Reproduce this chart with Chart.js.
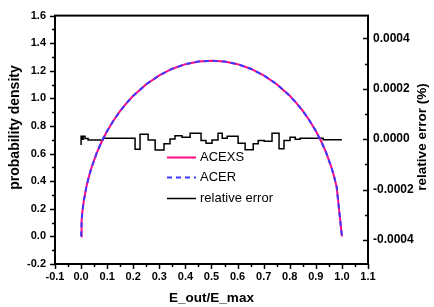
<!DOCTYPE html>
<html>
<head>
<meta charset="utf-8">
<script src="https://cdn.jsdelivr.net/npm/chart.js@4/dist/chart.umd.min.js"></script>
<style>
html,body{margin:0;padding:0;background:#fff;}
#wrap{width:434px;height:307px;position:relative;}
</style>
</head>
<body>
<div id="wrap"><canvas id="c" width="434" height="307"></canvas></div>
<script>
// ---- data ----
const curveX = [0, 0.002, 0.005, 0.01, 0.02, 0.03, 0.04, 0.06, 0.08, 0.1, 0.125, 0.15, 0.175, 0.2, 0.25, 0.3, 0.35, 0.4, 0.45, 0.5,
  0.55, 0.6, 0.65, 0.7, 0.75, 0.8, 0.825, 0.85, 0.875, 0.9, 0.92, 0.94, 0.96, 0.97, 0.98, 1.0];
const acexsY = [0, 0.114, 0.180, 0.253, 0.357, 0.434, 0.499, 0.605, 0.691, 0.764, 0.842, 0.909, 0.968, 1.019, 1.103, 1.167, 1.215, 1.248, 1.267, 1.273,
  1.267, 1.248, 1.215, 1.167, 1.103, 1.019, 0.968, 0.909, 0.842, 0.764, 0.691, 0.605, 0.499, 0.434, 0.357, 0];
const acerY = [0, 0.114, 0.180, 0.253, 0.357, 0.434, 0.499, 0.605, 0.691, 0.764, 0.842, 0.909, 0.968, 1.019, 1.103, 1.167, 1.215, 1.248, 1.267, 1.273,
  1.267, 1.248, 1.215, 1.167, 1.103, 1.019, 0.968, 0.909, 0.842, 0.764, 0.691, 0.605, 0.499, 0.434, 0.357, 0];
const errX = [0, 0.004, 0.008, 0.015, 0.027, 0.084, 0.207, 0.226, 0.257, 0.284, 0.318, 0.341, 0.360, 0.387, 0.418, 0.460, 0.479, 0.502, 0.525, 0.541,
  0.560, 0.602, 0.629, 0.660, 0.679, 0.702, 0.732, 0.759, 0.778, 0.801, 0.821, 0.840, 0.928, 0.982, 1.0];
const errY = [-2.3e-5, 1.2e-5, 0.0, 1.2e-5, 0.3e-5, -0.3e-5, 0.4e-5, -4.0e-5, 2.0e-5, -0.3e-5, -4.3e-5, -1.8e-5, 0.1e-5, 1.4e-5, 0.8e-5, 2.3e-5, -0.5e-5, -1.6e-5, -0.3e-5, 2.3e-5,
  0.4e-5, 1.2e-5, -1.6e-5, -4.2e-5, -1.8e-5, -0.5e-5, -0.8e-5, 2.3e-5, -3.8e-5, -0.5e-5, 0.8e-5, 0.0, 0.4e-5, -0.2e-5, -0.2e-5];
const xTicks = [-0.1, 0, 0.1, 0.2, 0.3, 0.4, 0.5, 0.6, 0.7, 0.8, 0.9, 1.0, 1.1];
const yTicks = [-0.2, 0, 0.2, 0.4, 0.6, 0.8, 1.0, 1.2, 1.4, 1.6];
const y1Ticks = [-0.0004, -0.0002, 0, 0.0002, 0.0004];
const seriesNames = ['ACEXS', 'ACER', 'relative error'];
const axisTitles = {x: 'E_out/E_max', y: 'probability density', y1: 'relative error (%)'};

const FONT = '"Liberation Sans", Arial, sans-serif';
const PINK = '#ff0a80', BLUE = '#3a3aff';

function pts(xs, ys){ return xs.map((x,i)=>({x:x, y:ys[i]})); }
function fixTicks(arr){ return function(scale){ scale.ticks = arr.map(v=>({value:v})); }; }

const framePlugin = {
  id: 'frame',
  afterDraw(chart){
    const ctx = chart.ctx, a = chart.chartArea;
    const sx = chart.scales.x, sy = chart.scales.y, sy1 = chart.scales.y1;
    ctx.save();
    ctx.strokeStyle = '#000';
    // ticks
    ctx.lineWidth = 1.5;
    ctx.beginPath();
    for (let v = -0.1; v <= 1.1001; v += 0.05) {
      const px = Math.round(sx.getPixelForValue(v)) + 0.5;
      const major = Math.abs(Math.round(v*10) - v*10) < 1e-6;
      ctx.moveTo(px, a.bottom); ctx.lineTo(px, a.bottom + (major ? 5 : 3));
    }
    for (let v = -0.2; v <= 1.6001; v += 0.1) {
      const py = Math.round(sy.getPixelForValue(v)) + 0.5;
      const major = Math.abs(Math.round(v*5) - v*5) < 1e-6;
      ctx.moveTo(a.left, py); ctx.lineTo(a.left - (major ? 5 : 3), py);
    }
    for (let k = -4; k <= 4; k++) {
      const v = k * 0.0001;
      const py = Math.round(sy1.getPixelForValue(v)) + 0.5;
      const major = (k % 2 === 0);
      ctx.moveTo(a.right, py); ctx.lineTo(a.right - (major ? 5 : 3), py);
    }
    ctx.stroke();
    // frame
    ctx.lineWidth = 2;
    ctx.strokeRect(a.left, a.top, a.right - a.left, a.bottom - a.top);
    // axis titles
    ctx.fillStyle = '#000';
    ctx.textAlign = 'center';
    ctx.textBaseline = 'middle';
    ctx.font = 'bold 14px ' + FONT;
    ctx.save();
    ctx.translate(15, 127.5);
    ctx.rotate(-Math.PI/2);
    ctx.fillText(axisTitles.y, 0, 0);
    ctx.restore();
    ctx.font = 'bold 13.5px ' + FONT;
    ctx.save();
    ctx.translate(422, 137);
    ctx.rotate(-Math.PI/2);
    ctx.fillText(axisTitles.y1, 0, 0);
    ctx.restore();
    ctx.fillText(axisTitles.x, (a.left + a.right)/2, 298);
    // legend
    const ds = chart.data.datasets;
    const rows = [157, 177, 198];
    ctx.font = '13px ' + FONT;
    ctx.textAlign = 'left';
    for (let i = 0; i < 3; i++) {
      const d = ds[i];
      ctx.strokeStyle = d.borderColor;
      ctx.lineWidth = d.borderWidth;
      ctx.setLineDash(d.borderDash || []);
      ctx.beginPath();
      ctx.moveTo(167, rows[i] + 0.5); ctx.lineTo(196, rows[i] + 0.5);
      ctx.stroke();
      ctx.setLineDash([]);
      ctx.fillText(d.label, 200, rows[i] + 0.5);
    }
    ctx.restore();
  }
};

const tickFont = {family: FONT, size: 11, weight: 'bold'};

new Chart(document.getElementById('c'), {
  type: 'scatter',
  data: {
    datasets: [
      {label: seriesNames[0], data: pts(curveX, acexsY), showLine: true, borderColor: PINK, borderWidth: 2, pointRadius: 0, order: 1, yAxisID: 'y'},
      {label: seriesNames[1], data: pts(curveX, acerY), showLine: true, borderColor: BLUE, borderWidth: 2, borderDash: [5,4], pointRadius: 0, order: 0, yAxisID: 'y'},
      {label: seriesNames[2], data: pts(errX, errY), showLine: true, stepped: 'after', borderColor: '#000', borderWidth: 1.5, pointRadius: 0, order: 2, yAxisID: 'y1'}
    ]
  },
  options: {
    responsive: false,
    animation: false,
    devicePixelRatio: 1,
    layout: {padding: {top: 11, left: 0, right: 0, bottom: 0}},
    plugins: {legend: {display: false}, tooltip: {enabled: false}},
    scales: {
      x: {
        type: 'linear', min: -0.1, max: 1.1,
        afterBuildTicks: fixTicks(xTicks),
        afterFit(s){ s.height = 43; },
        grid: {display: false, drawTicks: false},
        border: {display: false},
        ticks: {font: tickFont, color: '#000', padding: 6, maxRotation: 0, autoSkip: false,
          callback: v => v.toFixed(1)}
      },
      y: {
        type: 'linear', position: 'left', min: -0.2, max: 1.6,
        afterBuildTicks: fixTicks(yTicks),
        afterFit(s){ s.width = 55; },
        grid: {display: false, drawTicks: false},
        border: {display: false},
        ticks: {font: tickFont, color: '#000', padding: 9, autoSkip: false,
          callback: v => v.toFixed(1)}
      },
      y1: {
        type: 'linear', position: 'right', min: -0.000495, max: 0.00049,
        afterBuildTicks: fixTicks(y1Ticks),
        afterFit(s){ s.width = 66; },
        grid: {display: false, drawTicks: false},
        border: {display: false},
        ticks: {font: {family: FONT, size: 12, weight: 'bold'}, color: '#000', padding: 5, autoSkip: false,
          callback: v => v.toFixed(4)}
      }
    }
  },
  plugins: [framePlugin]
});
</script>
</body>
</html>
